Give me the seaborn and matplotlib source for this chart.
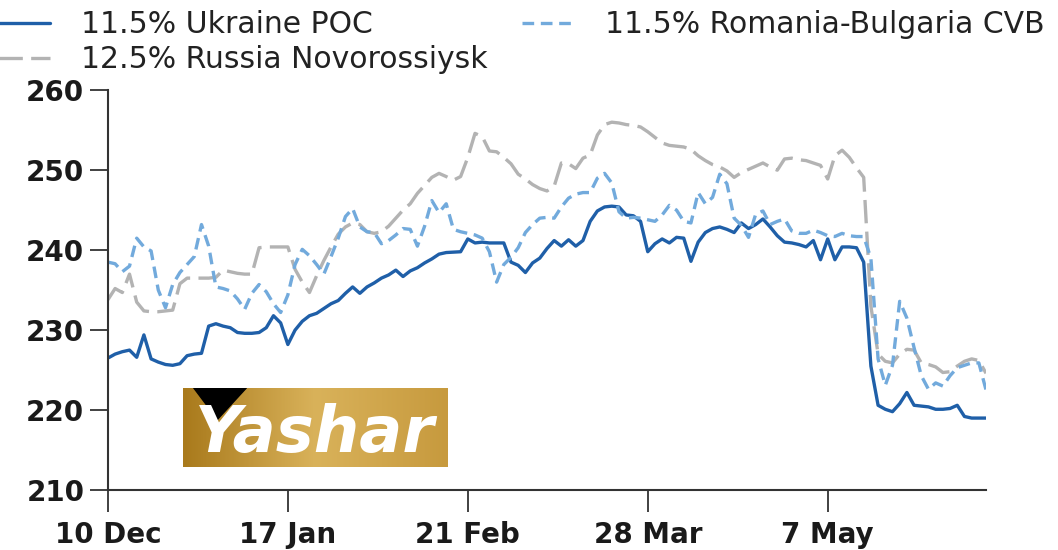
import numpy as np
import pandas as pd
import seaborn as sns
from matplotlib import pyplot as plt
from matplotlib.patches import Polygon

# daily series (index = trading day)
ukraine = [226.5, 227.0, 227.3, 227.5, 226.6, 229.4, 226.4, 226.0, 225.7, 225.6,
           225.8, 226.8, 227.0, 227.1, 230.5, 230.8, 230.5, 230.3, 229.7, 229.6,
           229.6, 229.7, 230.3, 231.8, 230.9, 228.2, 230.0, 231.1, 231.8, 232.1,
           232.7, 233.3, 233.7, 234.6, 235.4, 234.6, 235.4, 235.9, 236.5, 236.9,
           237.5, 236.7, 237.4, 237.8, 238.4, 238.9, 239.5, 239.7, 239.75, 239.8,
           241.4, 240.9, 241.0, 240.9, 240.9, 240.9, 238.5, 238.1, 237.2, 238.4,
           239.0, 240.2, 241.2, 240.5, 241.3, 240.5, 241.2, 243.6, 244.9, 245.4,
           245.5, 245.4, 244.4, 244.3, 243.6, 239.8, 240.8, 241.4, 240.9, 241.6,
           241.5, 238.6, 241.0, 242.2, 242.7, 242.9, 242.6, 242.2, 243.4, 242.7,
           243.2, 243.9, 242.9, 241.8, 241.0, 240.9, 240.7, 240.4, 241.2, 238.8,
           241.4, 238.8, 240.4, 240.4, 240.3, 238.5, 225.5, 220.6, 220.1, 219.8,
           220.8, 222.2, 220.6, 220.5, 220.4, 220.1, 220.1, 220.2, 220.6, 219.2,
           219.0, 219.0, 219.0]

romania = [238.5, 238.3, 237.3, 238.0, 241.5, 240.4, 239.9, 235.0, 232.8, 235.7,
           237.2, 238.2, 239.2, 243.2, 240.5, 235.4, 235.2, 234.9, 233.9, 232.6,
           234.6, 235.7, 234.8, 233.3, 232.2, 234.4, 238.2, 240.1, 239.3, 238.2,
           237.0, 239.2, 241.5, 244.2, 245.2, 242.9, 242.3, 242.2, 240.8, 241.2,
           241.9, 242.7, 242.6, 240.5, 243.0, 246.2, 244.7, 245.8, 242.6, 242.3,
           242.1, 241.9, 241.5, 239.8, 236.0, 238.2, 239.1, 240.3, 242.2, 243.2,
           244.0, 244.1, 244.0, 245.4, 246.5, 247.0, 247.2, 247.2, 249.0, 249.6,
           248.4, 244.8, 244.0, 244.1, 244.0, 243.8, 243.6, 244.4, 245.6, 245.0,
           243.6, 243.4, 247.2, 245.8, 246.6, 249.5, 248.3, 244.0, 243.1, 241.6,
           244.5, 244.9, 243.2, 243.6, 243.9, 242.4, 242.1, 242.1, 242.5, 242.2,
           241.8, 241.7, 242.1, 241.8, 241.7, 241.7, 239.0, 226.4, 223.1, 225.6,
           233.6, 231.5, 227.8, 224.3, 222.6, 223.4, 223.0, 224.3, 225.3, 225.6,
           225.9, 225.9, 222.5]

russia = [233.8, 235.2, 234.7, 237.0, 233.5, 232.4, 232.3, 232.3, 232.4, 232.5,
          235.8, 236.5, 236.5, 236.5, 236.5, 236.6, 237.5, 237.3, 237.1, 237.0,
          237.0, 240.3, 240.4, 240.4, 240.4, 240.4, 237.6, 236.0, 234.7, 236.8,
          238.7, 240.4, 242.0, 242.9, 243.4, 243.2, 242.3, 242.1, 242.3, 243.0,
          244.0, 245.0, 245.8, 247.1, 248.1, 249.1, 249.6, 249.2, 248.75, 249.2,
          251.6, 254.6, 254.2, 252.4, 252.3, 251.6, 250.8, 249.5, 248.9, 248.2,
          247.7, 247.4, 248.0, 250.9, 250.8, 250.2, 251.5, 251.9, 254.4, 255.7,
          256.0, 255.9, 255.7, 255.6, 255.4, 254.8, 254.1, 253.4, 253.1, 253.0,
          252.9, 252.6, 251.8, 251.2, 250.7, 250.4, 249.9, 249.1, 249.7, 250.1,
          250.5, 250.9, 250.4, 250.0, 251.4, 251.5, 251.3, 251.2, 250.9, 250.6,
          248.9, 251.8, 252.5, 251.6, 250.3, 249.1, 233.0, 227.0, 226.1, 225.9,
          227.0, 227.6, 227.5, 225.9, 225.7, 225.4, 224.7, 224.8, 225.5, 226.1,
          226.4, 226.2, 224.6]

tick_pos = [0, 25, 50, 75, 100]
tick_labels = ['10 Dec', '17 Jan', '21 Feb', '28 Mar', '7 May']

df = pd.DataFrame({'day': np.arange(len(ukraine)),
                   'ukraine': ukraine, 'romania': romania, 'russia': russia})

sns.set_style('white')
plt.rcParams['font.family'] = ['DejaVu Sans']

fig = plt.figure(figsize=(10.58, 5.5), dpi=100)
ax = fig.add_axes([0.102, 0.109, 0.83, 0.727])

sns.lineplot(data=df, x='day', y='ukraine', ax=ax, color='#1f5fa8', lw=2.4,
             label='11.5% Ukraine POC')
sns.lineplot(data=df, x='day', y='russia', ax=ax, color='#b3b3b3', lw=2.4,
             linestyle=(0, (7, 2.5)), label='12.5% Russia Novorossiysk')
sns.lineplot(data=df, x='day', y='romania', ax=ax, color='#72aadc', lw=2.4,
             linestyle=(0, (3.5, 2)), label='11.5% Romania-Bulgaria CVB')

ax.set_xlim(0, 122)
ax.set_ylim(210, 260)
ax.set_yticks(range(210, 261, 10))
ax.set_xticks(tick_pos)
ax.set_xticklabels(tick_labels)
ax.set_xlabel('')
ax.set_ylabel('')
for s in ['top', 'right']:
    ax.spines[s].set_visible(False)
for s in ['left', 'bottom']:
    ax.spines[s].set_color('#333333')
    ax.spines[s].set_linewidth(1.5)
ax.tick_params(axis='x', bottom=True, direction='out', length=16, width=1.3,
               color='#333333', labelsize=20, pad=6)
ax.tick_params(axis='y', left=True, direction='out', length=13, width=1.3,
               color='#333333', labelsize=20, pad=4)
for t in ax.get_xticklabels() + ax.get_yticklabels():
    t.set_fontweight('bold')
    t.set_color('#1a1a1a')

handles, labels = ax.get_legend_handles_labels()
ax.get_legend().remove()
fig.legend(handles, labels, loc='upper left', bbox_to_anchor=(-0.026, 1.03),
           ncol=2, frameon=False, fontsize=21.5, handlelength=1.7,
           handletextpad=1.05, columnspacing=1.15, labelspacing=0.2,
           labelcolor='#222222')

# watermark logo
lax = fig.add_axes([0.173, 0.151, 0.25, 0.144])
grad = np.linspace(0, 1, 200).reshape(1, -1)
lax.imshow(grad, extent=[0, 1, 0, 1], aspect='auto',
           cmap=sns.blend_palette(['#a97a1c', '#d9b25a', '#c79a3e'], as_cmap=True))
lax.add_patch(Polygon([[0.04, 1.0], [0.24, 1.0], [0.13, 0.6]], closed=True,
                      color='black'))
lax.text(0.5, 0.42, 'Yashar', color='white', fontsize=46, fontweight='bold',
         fontstyle='italic', ha='center', va='center')
lax.set_xlim(0, 1)
lax.set_ylim(0, 1)
lax.axis('off')

fig.savefig('out.png', dpi=100, facecolor='white')
